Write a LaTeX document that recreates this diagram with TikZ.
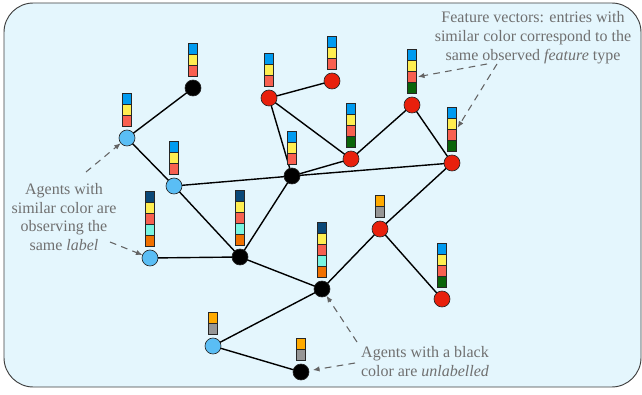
\documentclass[tikz,border=0pt]{standalone}
\usepackage{fontspec}
\setmainfont{Liberation Serif}
\usetikzlibrary{arrows.meta}
\begin{document}
\begin{tikzpicture}[x={(0.75pt,0)},y={(0,-0.75pt)},
  agent/.style={circle, draw=black!85, line width=0.5pt, minimum size=12pt, inner sep=0pt, outer sep=0pt},
  lcyan/.style={agent, fill={rgb,255:red,90;green,190;blue,245}},
  lred/.style={agent, fill={rgb,255:red,232;green,32;blue,12}},
  lnone/.style={agent, fill=black},
  feat/.style={draw=black!85, line width=0.55pt, minimum width=6.75pt, minimum height=8.25pt, inner sep=0pt, outer sep=0pt},
  fblue/.style={feat, fill={rgb,255:red,0;green,155;blue,240}},
  fyellow/.style={feat, fill={rgb,255:red,255;green,238;blue,80}},
  fsalmon/.style={feat, fill={rgb,255:red,248;green,96;blue,80}},
  fgreen/.style={feat, fill={rgb,255:red,10;green,100;blue,10}},
  fnavy/.style={feat, fill={rgb,255:red,10;green,72;blue,120}},
  faqua/.style={feat, fill={rgb,255:red,120;green,245;blue,225}},
  forange/.style={feat, fill={rgb,255:red,240;green,112;blue,0}},
  fgold/.style={feat, fill={rgb,255:red,255;green,170;blue,0}},
  fgray/.style={feat, fill={rgb,255:red,150;green,150;blue,150}},
  link/.style={line width=1.05pt},
  note/.style={font=\fontsize{12}{14.2}\selectfont, text={rgb,255:red,112;green,112;blue,112}, align=center, inner sep=0pt},
  pointer/.style={draw={rgb,255:red,100;green,100;blue,100}, line width=0.8pt, dash pattern=on 5pt off 4pt, -{Latex[length=5pt,width=4pt]}}]
\useasboundingbox (0,0) rectangle (642,395);
\draw[fill={rgb,255:red,228;green,246;blue,253}, draw=black!75, line width=0.7pt, rounded corners=22pt] (4,3) rectangle (641,387);
% agents
\node[lcyan] (c1) at (127,138) {};
\node[lcyan] (c2) at (174,186) {};
\node[lcyan] (c3) at (150,258) {};
\node[lcyan] (c4) at (213,346) {};
\node[lnone] (u1) at (193,88) {};
\node[lnone] (u2) at (292,176) {};
\node[lnone] (u3) at (240,257) {};
\node[lnone] (u4) at (322,289) {};
\node[lnone] (u5) at (301,372) {};
\node[lred] (r1) at (269,98) {};
\node[lred] (r2) at (332,81) {};
\node[lred] (r3) at (351,159) {};
\node[lred] (r4) at (412,105) {};
\node[lred] (r5) at (452,163) {};
\node[lred] (r6) at (380,229) {};
\node[lred] (r7) at (442,299) {};
% links
\draw[link] (c1) -- (u1);
\draw[link] (c1) -- (c2);
\draw[link] (c2) -- (u2);
\draw[link] (c2) -- (u3);
\draw[link] (u2) -- (r1);
\draw[link] (r1) -- (r2);
\draw[link] (r1) -- (r3);
\draw[link] (u2) -- (r3);
\draw[link] (u2) -- (r5);
\draw[link] (u2) -- (u3);
\draw[link] (r3) -- (r4);
\draw[link] (r4) -- (r5);
\draw[link] (r5) -- (r6);
\draw[link] (r6) -- (u4);
\draw[link] (r6) -- (r7);
\draw[link] (u3) -- (u4);
\draw[link] (c3) -- (u3);
\draw[link] (u4) -- (c4);
\draw[link] (c4) -- (u5);
% feature vectors
\node[fsalmon] (u1a) at (193,71) {};
\node[fyellow] (u1b) at (193,60) {};
\node[fblue] (u1c) at (193,49) {};
\node[fsalmon] (c1a) at (127,121) {};
\node[fyellow] (c1b) at (127,110) {};
\node[fblue] (c1c) at (127,99) {};
\node[fsalmon] (c2a) at (174,169) {};
\node[fyellow] (c2b) at (174,158) {};
\node[fblue] (c2c) at (174,147) {};
\node[fsalmon] (r1a) at (269,81) {};
\node[fyellow] (r1b) at (269,70) {};
\node[fblue] (r1c) at (269,59) {};
\node[fsalmon] (r2a) at (332,64) {};
\node[fyellow] (r2b) at (332,53) {};
\node[fblue] (r2c) at (332,42) {};
\node[fsalmon] (u2a) at (292,159) {};
\node[fyellow] (u2b) at (292,148) {};
\node[fblue] (u2c) at (292,137) {};
\node[fgreen] (r3a) at (351,142) {};
\node[fsalmon] (r3b) at (351,131) {};
\node[fyellow] (r3c) at (351,120) {};
\node[fblue] (r3d) at (351,109) {};
\node[fgreen] (r4a) at (412,88) {};
\node[fsalmon] (r4b) at (412,77) {};
\node[fyellow] (r4c) at (412,66) {};
\node[fblue] (r4d) at (412,55) {};
\node[fgreen] (r5a) at (452,146) {};
\node[fsalmon] (r5b) at (452,135) {};
\node[fyellow] (r5c) at (452,124) {};
\node[fblue] (r5d) at (452,113) {};
\node[fgreen] (r7a) at (442,282) {};
\node[fsalmon] (r7b) at (442,271) {};
\node[fyellow] (r7c) at (442,260) {};
\node[fblue] (r7d) at (442,249) {};
\node[forange] (c3a) at (150,241) {};
\node[faqua] (c3b) at (150,230) {};
\node[fsalmon] (c3c) at (150,219) {};
\node[fyellow] (c3d) at (150,208) {};
\node[fnavy] (c3e) at (150,197) {};
\node[forange] (u3a) at (240,240) {};
\node[faqua] (u3b) at (240,229) {};
\node[fsalmon] (u3c) at (240,218) {};
\node[fyellow] (u3d) at (240,207) {};
\node[fnavy] (u3e) at (240,196) {};
\node[forange] (u4a) at (322,272) {};
\node[faqua] (u4b) at (322,261) {};
\node[fsalmon] (u4c) at (322,250) {};
\node[fyellow] (u4d) at (322,239) {};
\node[fnavy] (u4e) at (322,228) {};
\node[fgray] (r6a) at (380,212) {};
\node[fgold] (r6b) at (380,201) {};
\node[fgray] (c4a) at (213,329) {};
\node[fgold] (c4b) at (213,318) {};
\node[fgray] (u5a) at (301,355) {};
\node[fgold] (u5b) at (301,344) {};
% notes
\node[note] (fvnote) at (533,38) {Feature vectors: entries with\\similar color correspond to the\\same observed \textit{feature} type};
\node[note] (labnote) at (64,217) {Agents with\\similar color are\\observing the\\same \textit{label}};
\node[note] (unlnote) at (425,362) {Agents with a black\\color are \textit{unlabelled}};
\coordinate (fv1) at (487,64);
\coordinate (fv2) at (497,64);
\coordinate (lab1) at (86,172);
\coordinate (lab2) at (110,242);
\coordinate (unl1) at (357,342);
\coordinate (unl2) at (355,363);
\draw[pointer, shorten >=1pt] (fv1) -- (r4b.east);
\draw[pointer, shorten >=1.5pt] (fv2) -- (r5b.north east);
\draw[pointer] (lab1) -- (c1);
\draw[pointer] (lab2) -- (c3);
\draw[pointer] (unl1) -- (u4);
\draw[pointer, shorten >=3pt] (unl2) -- (u5);
\end{tikzpicture}
\end{document}
